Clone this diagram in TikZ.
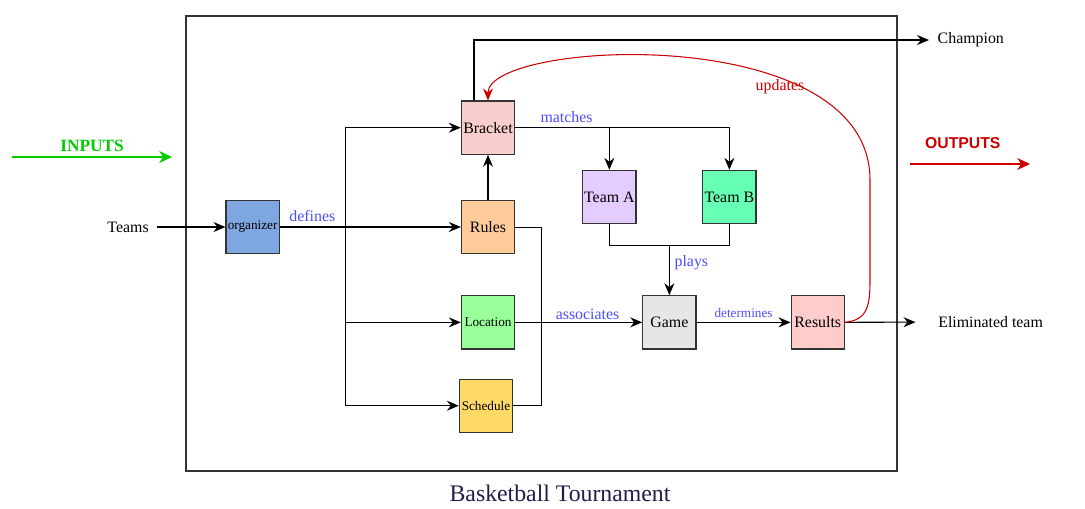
\documentclass[tikz,border=0pt]{standalone}
\usepackage{fontspec}
\setmainfont{Liberation Serif}
\newfontfamily\headsans{Liberation Sans}
\usepackage{xcolor}
\usetikzlibrary{arrows.meta,positioning,calc}

\definecolor{boxline}{HTML}{333333}
\definecolor{lblblue}{HTML}{4D4DFF}
\definecolor{updred}{HTML}{CC0000}
\definecolor{ingreen}{HTML}{00CC00}
\definecolor{capnavy}{HTML}{1F1F4A}
\definecolor{orgcol}{HTML}{7EA6E0}
\definecolor{bracketcol}{HTML}{F8CECC}
\definecolor{rulescol}{HTML}{FFCC99}
\definecolor{loccol}{HTML}{99FF99}
\definecolor{schedcol}{HTML}{FFD966}
\definecolor{teamacol}{HTML}{E5CCFF}
\definecolor{teambcol}{HTML}{66FFB3}
\definecolor{gamecol}{HTML}{E6E6E6}
\definecolor{rescol}{HTML}{FFCCCC}

\begin{document}
\begin{tikzpicture}[
    x=0.025cm, y=-0.025cm,
    font=\fontsize{11.3pt}{13pt}\selectfont,
    box/.style={
        draw=boxline,
        line width=0.8pt,
        minimum width=1.33cm,
        minimum height=1.33cm,
        inner sep=1pt,
        align=center
    },
    smalltext/.style={font=\fontsize{9.4pt}{11pt}\selectfont},
    lbl/.style={text=lblblue},
    plain/.style={inner sep=6pt},
    arrow/.style={-{Stealth[length=3mm, width=2.5mm, inset=1mm]}, line width=0.75pt},
    bigarrow/.style={-{Stealth[length=3.2mm, width=3mm, inset=1mm]}, line width=0.75pt}
]
\useasboundingbox (0,0) rectangle (1085,508);

\draw[draw=boxline, line width=0.9pt] (186,16) rectangle (897,471);

\node[box, fill=rulescol] (rules) at (488,227) {Rules};
\node[box, fill=bracketcol, above=1.125cm of rules] (bracket) {Bracket};
\node[box, smalltext, fill=loccol, below=1.025cm of rules] (loc) {Location};
\node[box, smalltext, fill=schedcol, below=0.725cm of loc, xshift=-0.05cm] (sched) {Schedule};
\node[box, smalltext, fill=orgcol, left=4.525cm of rules] (org) {organizer};
\node[box, fill=gamecol, right=3.175cm of loc] (game) {Game};
\node[box, fill=rescol, right=2.35cm of game] (res) {Results};
\node[box, fill=teamacol, above=1.775cm of game, xshift=-1.5cm] (teama) {Team A};
\node[box, fill=teambcol, above=1.775cm of game, xshift=1.5cm] (teamb) {Team B};

\node[plain, left=1.7cm of org] (teams) {Teams};
\node[plain, anchor=west] (champ) at (929,40) {Champion};
\node[plain, anchor=west, inner sep=0pt] (elim) at (938,322) {Eliminated team};

\coordinate[right=1.65cm of org.east] (split);
\coordinate[above=1.25cm of game.north] (join);

\draw[arrow] (teams) -- (org);
\draw[arrow] (org) -- node[lbl, above, pos=0.18] {defines} (rules);
\draw[arrow] (split) |- (bracket);
\draw[arrow] (split) |- (loc);
\draw[arrow] (split) |- (sched);
\draw[arrow] (rules) -- (bracket);
\draw (rules.east) -- ++(0.65cm,0) |- (sched.east);

\draw[arrow] (bracket) -| node[lbl, above, pos=0.12] {matches} (teamb);
\draw[arrow] (bracket -| teama) -- (teama);
\draw (teama.south) |- (join) -| (teamb.south);
\draw[arrow] (join) -- node[lbl, right, pos=0.35] {plays} (game);

\draw[arrow] (loc) -- node[lbl, above, pos=0.57, yshift=-2pt] {associates} (game);
\draw[arrow] (game) -- node[lbl, smalltext, above] {determines} (res);
\draw[arrow, shorten >=16pt] (res) -- (elim);
\draw[arrow] ([xshift=-0.35cm]bracket.north) |- (champ);

\draw[arrow, updred] (res.east) .. controls (868,320) and (870,305) .. (870,280)
    -- (870,180) .. controls (870,20) and (488,40) .. (bracket.north);
\node[text=updred] (upd) at (780,87) {updates};

\coordinate (in0) at (12,157);
\coordinate (in1) at (172,157);
\draw[bigarrow, ingreen] (in0) -- node[above, font={\fontsize{12.3pt}{14pt}\selectfont\bfseries}] {INPUTS} (in1);

\coordinate (out0) at (910,164);
\coordinate (out1) at (1030,164);
\draw[bigarrow, updred] (out0) -- node[above=7pt, pos=0.44, font={\headsans\fontsize{11.2pt}{13pt}\selectfont\bfseries}] {OUTPUTS} (out1);

\node[text=capnavy, font=\fontsize{16.9pt}{19pt}\selectfont] (caption) at (560,493) {Basketball Tournament};
\end{tikzpicture}
\end{document}
